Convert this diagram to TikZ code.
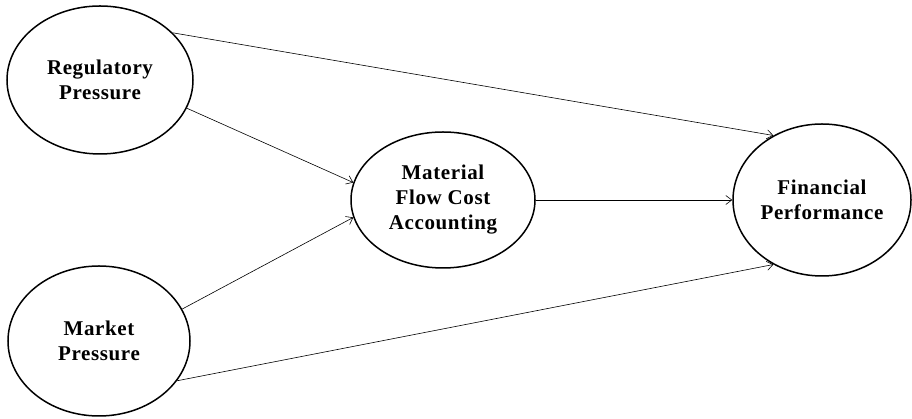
\documentclass[tikz,border=0pt]{standalone}
\usepackage{fontspec}
\setmainfont{Liberation Serif}
\usetikzlibrary{shapes.geometric,arrows.meta}

\begin{document}
\begin{tikzpicture}[x=1pt,y=1pt,
  var/.style={ellipse,draw,line width=1.5pt,inner sep=0,align=center,
    font=\fontsize{21}{25}\selectfont\bfseries\addfontfeature{LetterSpace=3}},
  link/.style={-{Straight Barb[length=6pt,width=9pt]},line width=0.6pt}]
\useasboundingbox (0,0) rectangle (912,419);
\node[var,minimum width=186,minimum height=148] (reg) at (100,339) {Regulatory\\Pressure};
\node[var,minimum width=182,minimum height=150] (mkt) at (99,78) {Market\\Pressure};
\node[var,minimum width=184,minimum height=136] (mfca) at (443,219) {Material\\Flow Cost\\Accounting};
\node[var,minimum width=178,minimum height=152] (fin) at (822,219) {Financial\\Performance};
\draw[link] (reg.33) -- (fin.127);
\draw[link] (reg.-18) -- (mfca.169);
\draw[link] (mkt.21) -- (mfca.191);
\draw[link] (mkt.-27) -- (fin.233);
\draw[link] (mfca) -- (fin);
\end{tikzpicture}
\end{document}
